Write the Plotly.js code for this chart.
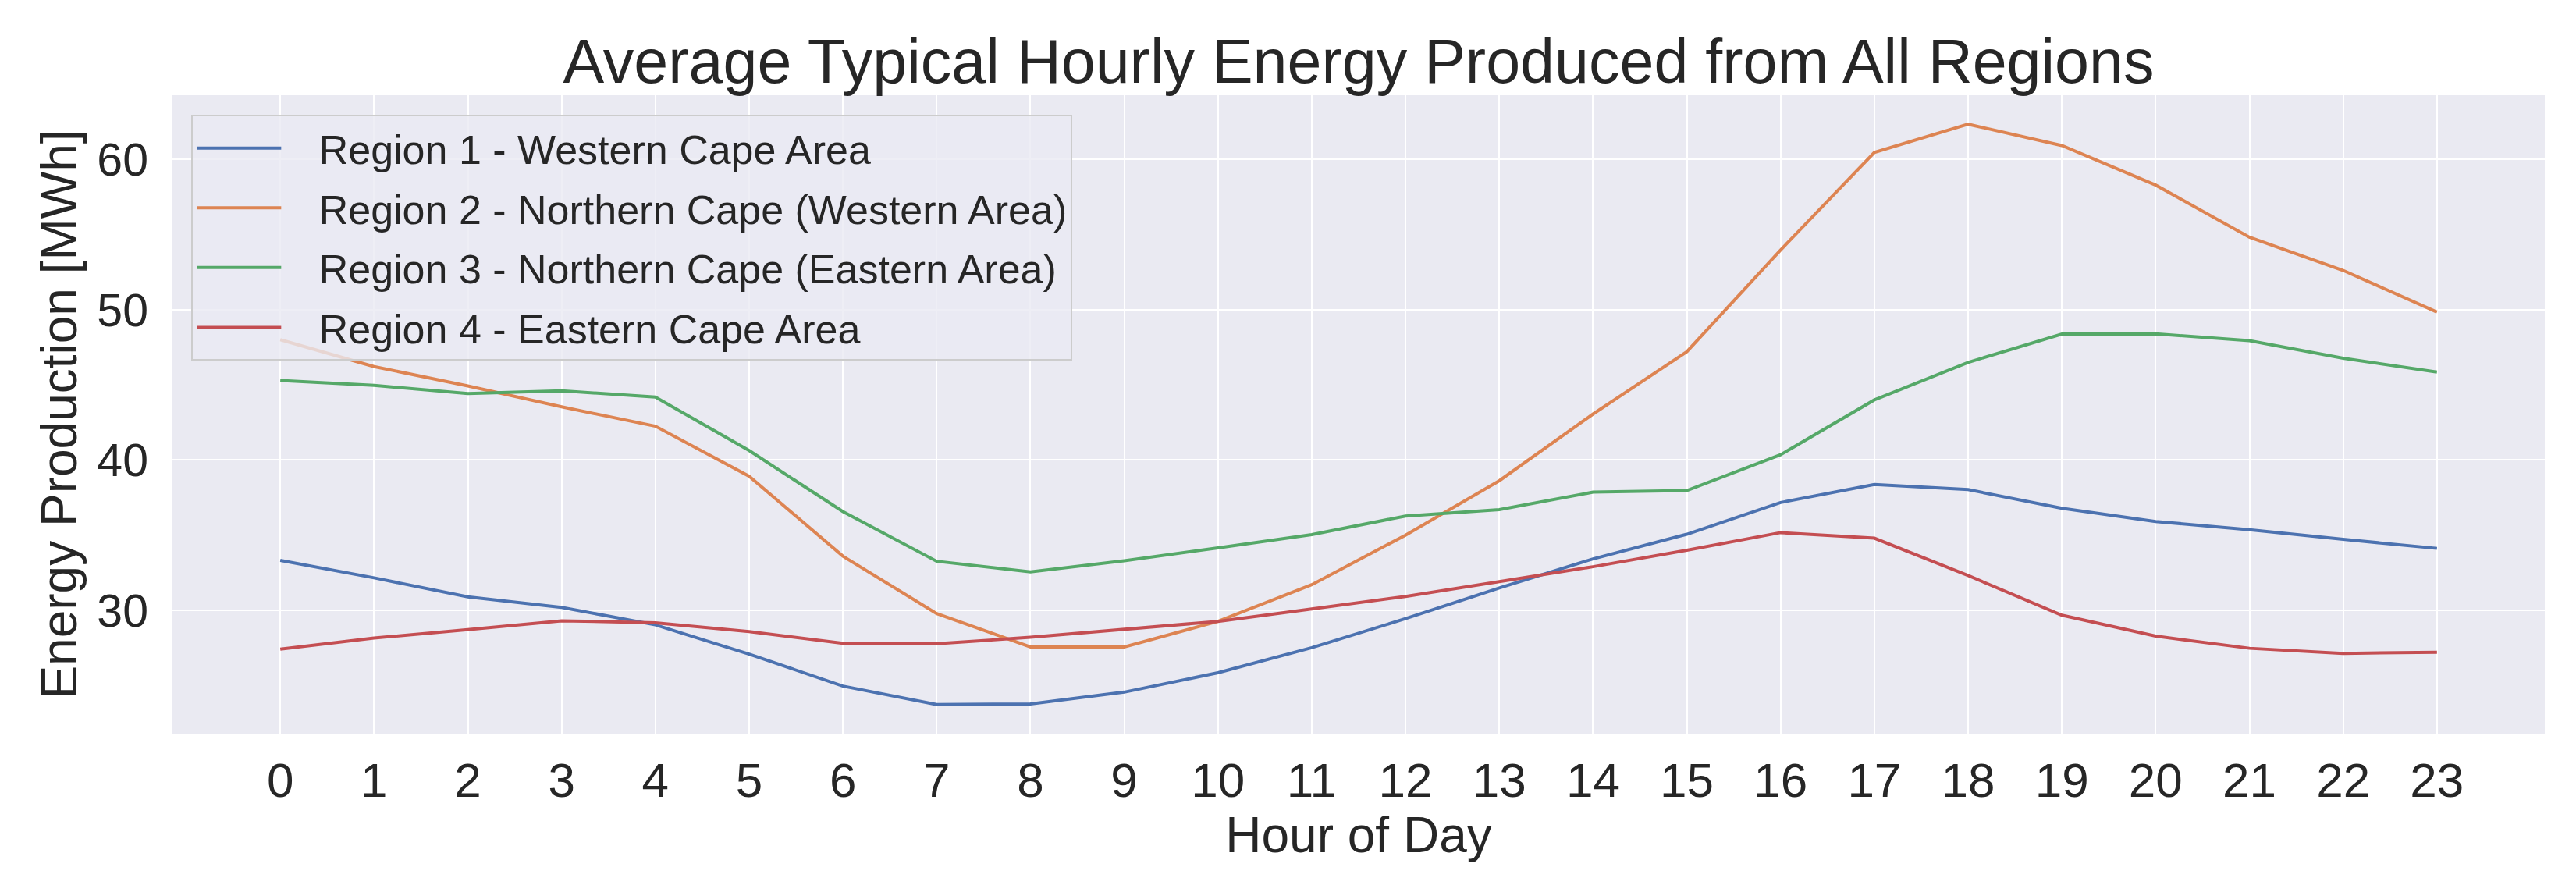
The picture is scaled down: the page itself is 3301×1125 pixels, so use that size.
<!DOCTYPE html>
<html>
<head>
<meta charset="utf-8">
<script src="https://cdn.plot.ly/plotly-3.0.1.min.js"></script>
<style>
  html, body { margin: 0; padding: 0; background: #ffffff; }
  #graph { width: 3301px; height: 1125px; }
</style>
</head>
<body>
<div id="graph"></div>
<script>
// hours of the day on the x axis
var hours = [0, 1, 2, 3, 4, 5, 6, 7, 8, 9, 10, 11, 12, 13, 14, 15, 16, 17, 18, 19, 20, 21, 22, 23];

// average typical hourly energy per region, MWh
var region1 = [33.32, 32.16, 30.89, 30.19, 29.03, 27.08, 24.95, 23.72, 23.76, 24.55, 25.84, 27.51,
               29.44, 31.48, 33.42, 35.06, 37.17, 38.37, 38.03, 36.79, 35.91, 35.36, 34.72, 34.12];
var region2 = [48.01, 46.22, 44.93, 43.54, 42.25, 38.92, 33.60, 29.78, 27.56, 27.56, 29.26, 31.70,
               35.00, 38.62, 43.06, 47.21, 53.98, 60.47, 62.35, 60.93, 58.30, 54.83, 52.62, 49.85];
var region3 = [45.30, 44.97, 44.43, 44.61, 44.19, 40.63, 36.57, 33.26, 32.55, 33.29, 34.15, 35.04,
               36.27, 36.70, 37.86, 37.97, 40.35, 44.00, 46.50, 48.38, 48.40, 47.94, 46.78, 45.85];
var region4 = [27.41, 28.15, 28.71, 29.30, 29.17, 28.58, 27.80, 27.77, 28.20, 28.74, 29.26, 30.09,
               30.92, 31.90, 32.90, 34.00, 35.17, 34.80, 32.31, 29.67, 28.28, 27.47, 27.13, 27.21];

var seriesNames = [
    "Region 1 - Western Cape Area",
    "Region 2 - Northern Cape (Western Area)",
    "Region 3 - Northern Cape (Eastern Area)",
    "Region 4 - Eastern Cape Area"
];
var seriesColors = ["#4C72B0", "#DD8452", "#55A868", "#C44E52"]; // seaborn "deep"

var yTicks = [30, 40, 50, 60];

var fontFamily = "Liberation Sans, Arial, sans-serif";
var textColor = "#262626";
var legendGap = "\u00a0\u00a0\u00a0"; // room between the legend line and its label

function drawGraph() {
    var allSeries = [region1, region2, region3, region4];
    var data = [];
    for (var i = 0; i < allSeries.length; i += 1) {
        data.push({
            x: hours,
            y: allSeries[i],
            type: "scatter",
            mode: "lines",
            name: legendGap + seriesNames[i],
            legendgroup: "g" + i,
            line: { color: seriesColors[i], width: 4 }
        });
    }

    // matplotlib style 5% padding round the data
    var allY = region1.concat(region2, region3, region4);
    var yMin = Math.min.apply(null, allY);
    var yMax = Math.max.apply(null, allY);
    var yPad = (yMax - yMin) * 0.05;
    var xPad = (hours[hours.length - 1] - hours[0]) * 0.05;

    var layout = {
        width: 3301,
        height: 1125,
        paper_bgcolor: "#ffffff",
        plot_bgcolor: "#EAEAF2",
        margin: { l: 221, r: 40, t: 122, b: 185, pad: 0, autoexpand: false },
        font: { family: fontFamily, color: textColor, size: 56 },
        title: {
            text: "Average Typical Hourly Energy Produced from All Regions",
            font: { family: fontFamily, size: 79, color: textColor },
            x: 0.5,
            xref: "paper",
            y: 1,
            yref: "paper",
            yanchor: "bottom",
            pad: { b: 16 }
        },
        xaxis: {
            range: [hours[0] - xPad, hours[hours.length - 1] + xPad],
            tickmode: "array",
            tickvals: hours,
            ticktext: hours.map(String),
            tickfont: { size: 62, color: textColor },
            ticks: "",
            ticklabelstandoff: 18,
            showgrid: true,
            gridcolor: "#ffffff",
            gridwidth: 2,
            zeroline: false,
            showline: false,
            title: {
                text: "Hour of Day",
                font: { size: 64, color: textColor },
                standoff: 12
            }
        },
        yaxis: {
            range: [yMin - yPad, yMax + yPad],
            tickmode: "array",
            tickvals: yTicks,
            ticktext: yTicks.map(String),
            tickfont: { size: 59, color: textColor },
            ticks: "",
            ticklabelstandoff: 30,
            showgrid: true,
            gridcolor: "#ffffff",
            gridwidth: 2,
            zeroline: false,
            showline: false,
            title: {
                text: "Energy Production [MWh]",
                font: { size: 64, color: textColor },
                standoff: 4
            }
        },
        showlegend: true,
        legend: {
            x: 0.008,
            y: 0.969,
            xanchor: "left",
            yanchor: "top",
            bgcolor: "rgba(234,234,242,0.8)",
            bordercolor: "#cccccc",
            borderwidth: 2,
            font: { size: 52, color: textColor },
            traceorder: "grouped",
            tracegroupgap: 6,
            itemwidth: 108
        }
    };

    Plotly.newPlot("graph", data, layout, { staticPlot: true, displayModeBar: false });
}
drawGraph();
</script>
</body>
</html>
